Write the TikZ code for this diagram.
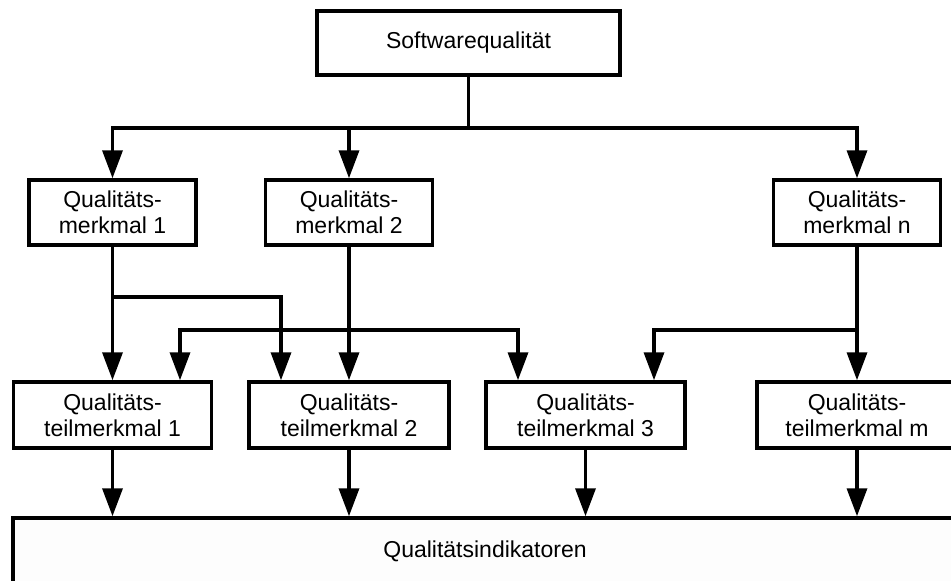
\documentclass[tikz,border=0pt]{standalone}
\usepackage{fontspec}
\setmainfont{Liberation Sans}
\usetikzlibrary{arrows.meta,calc}
\definecolor{paleground}{RGB}{253,253,253}
\tikzset{
  box/.style={draw, line width=3.5pt, fill=white, align=center, inner sep=0pt,
    font=\fontsize{23}{26}\selectfont},
  line/.style={line width=3.5pt},
  arr/.style={line width=3.5pt, -{Triangle[length=28pt,width=20pt]}},
  arrboth/.style={line width=3.5pt, {Triangle[length=28pt,width=20pt]}-{Triangle[length=28pt,width=20pt]}}
}
\begin{document}
\begin{tikzpicture}[x=1pt,y=-1pt]
\useasboundingbox (0,0) rectangle (951,581);
\clip (0,0) rectangle (951,581);

% hierarchy levels
\node[box, minimum width=303, minimum height=64] (top) at (468.5,43) {Softwarequalität};

\node[box, minimum width=167, minimum height=65] (q1) at (112.5,212.5) {Qualitäts-\\merkmal 1};
\node[box, minimum width=167, minimum height=65] (q2) at (349,212.5) {Qualitäts-\\merkmal 2};
\node[box, minimum width=167, minimum height=65] (qn) at (857,212.5) {Qualitäts-\\merkmal n};

\node[box, minimum width=198, minimum height=66] (t1) at (112.5,415) {Qualitäts-\\teilmerkmal 1};
\node[box, minimum width=200, minimum height=66] (t2) at (349,415) {Qualitäts-\\teilmerkmal 2};
\node[box, minimum width=199, minimum height=66] (t3) at (585.5,415) {Qualitäts-\\teilmerkmal 3};
\node[box, minimum width=200, minimum height=66] (tm) at (857,415) {Qualitäts-\\teilmerkmal m};

\node[box, fill=paleground, minimum width=944, minimum height=66] (ind) at (485,551) {Qualitätsindikatoren};

% junction points of the distribution lines
\coordinate (j0) at (top.south |- 0,128);
\coordinate (c1) at (281,297);
\coordinate (c2) at (180,330);
\coordinate (c3) at (518,330);
\coordinate (c4) at (654,330);

% Softwarequalität -> Qualitätsmerkmale
\draw[line] (top.south) -- (j0);
\draw[arr] (j0) -| (q1.north);
\draw[arr] (j0) -| (qn.north);
\draw[arr] (q2.north |- j0) -- (q2.north);

% Qualitätsmerkmale -> Teilmerkmale
\draw[arr] (q1.south) -- (t1.north);
\draw[arr] (q1.south |- c1) -- (c1) -- (c1 |- t2.north);
\draw[arr] (q2.south) -- (t2.north);
\draw[arrboth] (c2 |- t1.north) -- (c2) -- (c3) -- (c3 |- t3.north);
\draw[arr] (qn.south) -- (tm.north);
\draw[arr] (qn.south |- c4) -- (c4) -- (c4 |- t3.north);

% Teilmerkmale -> Qualitätsindikatoren
\draw[arr] (t1.south) -- (t1.south |- ind.north);
\draw[arr] (t2.south) -- (t2.south |- ind.north);
\draw[arr] (t3.south) -- (t3.south |- ind.north);
\draw[arr] (tm.south) -- (tm.south |- ind.north);
\end{tikzpicture}
\end{document}
